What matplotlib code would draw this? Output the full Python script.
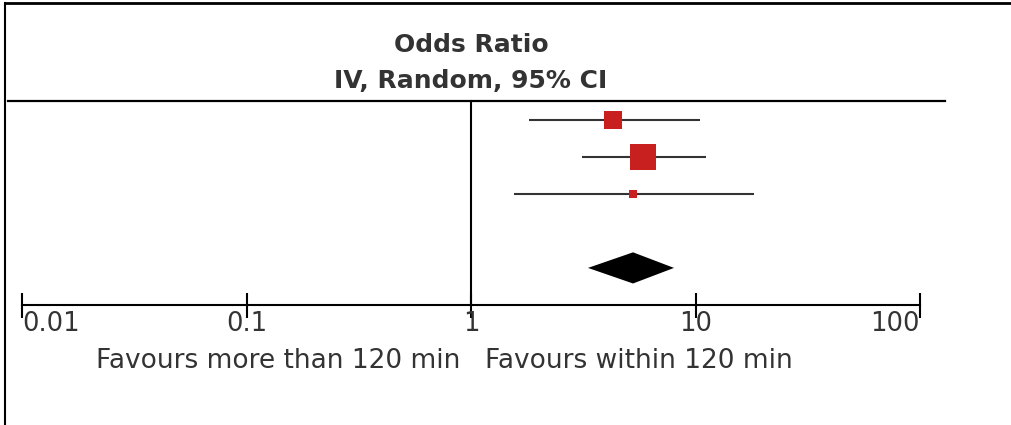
import numpy as np
import matplotlib
matplotlib.use('Agg')
import matplotlib.pyplot as plt
from matplotlib.lines import Line2D

# study estimates (odds ratio with 95% CI)
odds_ratio = [4.29, 5.84, 5.27]
ci_low = [1.81, 3.12, 1.55]
ci_high = [10.5, 11.1, 18.2]
weights = [31.9, 61.8, 6.3]

# pooled estimate (random effects)
pooled_or = 5.27
pooled_low = 3.32
pooled_high = 8.02

tick_values = [0.01, 0.1, 1, 10, 100]
tick_labels = ['0.01', '0.1', '1', '10', '100']

plt.rcParams['font.family'] = ['DejaVu Sans']
text_color = '#333333'
W, H = 1011, 425
ax_top, ax_bot = 101, 305  # pixel rows of header rule and axis line

fig = plt.figure(figsize=(W / 100, H / 100), dpi=100)
ax = fig.add_axes([22 / W, (H - ax_bot) / H, (920 - 22) / W, (ax_bot - ax_top) / H])
ax.set_xscale('log')
ax.set_xlim(0.01, 100)
ax.set_ylim(5, -0.5)

rows = np.arange(len(odds_ratio))
for r, o, lo, hi, w in zip(rows, odds_ratio, ci_low, ci_high, weights):
    ax.plot([lo, hi], [r, r], color='#333333', lw=1.5, solid_capstyle='butt', zorder=2)
    ax.plot(o, r, marker='s', color='#c8201e', markersize=2.3 * np.sqrt(w),
            markeredgewidth=0, zorder=3)

# diamond for pooled result
drow = 4
ax.fill([pooled_low, pooled_or, pooled_high, pooled_or],
        [drow, drow - 0.42, drow, drow + 0.42], color='black', lw=0, zorder=3)

ax.axvline(1, color='black', lw=1.5, zorder=1)

for s in ['top', 'left', 'right']:
    ax.spines[s].set_visible(False)
ax.spines['bottom'].set_linewidth(1.5)
ax.set_yticks([])
ax.set_xticks(tick_values)
ax.set_xticklabels(tick_labels)
ax.minorticks_off()
ax.tick_params(axis='x', direction='inout', length=18, width=1.5,
               labelsize=18.5, labelcolor=text_color, pad=-5)
aligns = ['left', 'center', 'center', 'center', 'right']
for lbl, ha in zip(ax.get_xticklabels(), aligns):
    lbl.set_ha(ha)


def ypos(py):
    # pixel row -> axes fraction
    return (ax_bot - py) / (ax_bot - ax_top)


trans = ax.get_xaxis_transform()
ax.text(1, ypos(45), 'Odds Ratio', transform=trans, ha='center', va='center',
        fontsize=18, fontweight='bold', color=text_color)
ax.text(1, ypos(81), 'IV, Random, 95% CI', transform=trans, ha='center', va='center',
        fontsize=18, fontweight='bold', color=text_color)

ax.text(0.9, ypos(361), 'Favours more than 120 min', transform=trans,
        ha='right', va='center', fontsize=19, color=text_color)
ax.text(1.15, ypos(361), 'Favours within 120 min', transform=trans,
        ha='left', va='center', fontsize=19, color=text_color)

# header rule and outer frame
fig.add_artist(Line2D([8 / W, 945 / W], [(H - ax_top) / H] * 2, color='black', lw=1.6))
fig.add_artist(Line2D([5 / W, 1], [(H - 3) / H] * 2, color='black', lw=2))
fig.add_artist(Line2D([5 / W, 5 / W], [0, (H - 3) / H], color='black', lw=1.5))

fig.savefig('out.png', dpi=100)
